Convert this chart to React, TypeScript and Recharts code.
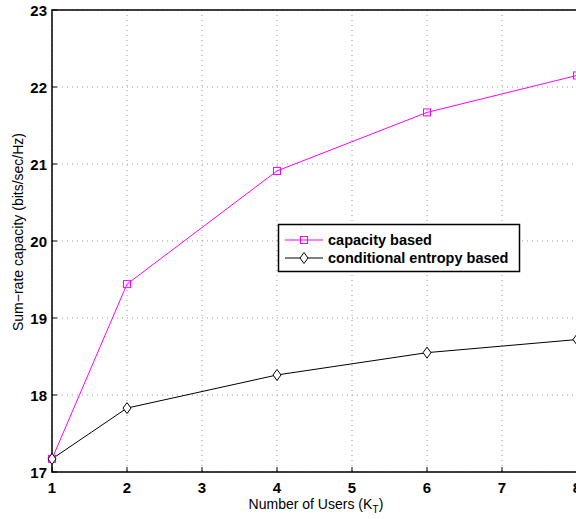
import React from "react";
import * as Recharts from "recharts";
import { ComposedChart, Line, XAxis, YAxis, CartesianGrid, Customized } from "recharts";

const users = [1, 2, 4, 6, 8];
const capacityBased = [17.17, 19.44, 20.91, 21.67, 22.15];
const conditionalEntropyBased = [17.17, 17.83, 18.26, 18.55, 18.72];
const xTicks = [1, 2, 3, 4, 5, 6, 7, 8];
const yTicks = [17, 18, 19, 20, 21, 22, 23];
const seriesNames = ["capacity based", "conditional entropy based"];

const data = users.map((u, i) => ({ x: u, cap: capacityBased[i], ce: conditionalEntropyBased[i] }));

const MAGENTA = "#ff00ff";
const FONT = "'Liberation Sans', Arial, Helvetica, sans-serif";

const SquareDot = (props: any) => {
  const { cx, cy } = props;
  if (cx == null || cy == null) return null;
  return <rect x={cx - 3.5} y={cy - 3.5} width={7} height={7} fill="none" stroke={MAGENTA} strokeWidth={1} />;
};
const DiamondDot = (props: any) => {
  const { cx, cy } = props;
  if (cx == null || cy == null) return null;
  return <path d={`M${cx},${cy - 5.5} L${cx + 4},${cy} L${cx},${cy + 5.5} L${cx - 4},${cy} Z`} fill="#fff" stroke="#000" strokeWidth={1} />;
};

const XTick = (props: any) => {
  const { x, payload } = props;
  return (
    <g>
      <line x1={x} x2={x} y1={472} y2={467} stroke="#000" strokeWidth={1} />
      <text x={x} y={493} textAnchor="middle" fontFamily={FONT} fontWeight="bold" fontSize={15} fill="#000">{payload.value}</text>
    </g>
  );
};
const XTopTick = (props: any) => {
  const { x } = props;
  return <line x1={x} x2={x} y1={10} y2={15} stroke="#000" strokeWidth={1} />;
};
const YTick = (props: any) => {
  const { y, payload } = props;
  return (
    <g>
      <line x1={52} x2={57} y1={y} y2={y} stroke="#000" strokeWidth={1} />
      <text x={47} y={y + 5.5} textAnchor="end" fontFamily={FONT} fontWeight="bold" fontSize={15} fill="#000">{payload.value}</text>
    </g>
  );
};

const Overlay = () => {
  const R: any = Recharts;
  let area: any = null;
  try {
    area = R.usePlotArea ? R.usePlotArea() : R.useOffset ? R.useOffset() : null;
  } catch (e) {
    area = null;
  }
  const left = area?.x ?? area?.left ?? 52;
  const top = area?.y ?? area?.top ?? 10;
  const width = area?.width ?? 525;
  const height = area?.height ?? 462;
  return (
    <g>
      <rect x={left} y={top} width={width} height={height} fill="none" stroke="#000" strokeWidth={1.5} />
      <g>
        <rect x={278.5} y={224.5} width={241} height={47} fill="#fff" stroke="#000" strokeWidth={1.5} />
        <line x1={285} x2={323} y1={240} y2={240} stroke={MAGENTA} strokeWidth={1} />
        <rect x={300.5} y={236.5} width={7} height={7} fill="none" stroke={MAGENTA} strokeWidth={1} />
        <text x={328} y={245} fontFamily={FONT} fontWeight="bold" fontSize={14.5} fill="#000">{seriesNames[0]}</text>
        <line x1={285} x2={323} y1={258} y2={258} stroke="#000" strokeWidth={1} />
        <path d="M304,252.5 L308,258 L304,263.5 L300,258 Z" fill="#fff" stroke="#000" strokeWidth={1} />
        <text x={328} y={263} fontFamily={FONT} fontWeight="bold" fontSize={14.5} fill="#000">{seriesNames[1]}</text>
      </g>
      <text x={316} y={509} textAnchor="middle" fontFamily={FONT} fontSize={14} fill="#000">
        Number of Users (K<tspan dy={4} fontSize={10.5}>T</tspan><tspan dy={-4}>)</tspan>
      </text>
      <text x={0} y={0} transform="translate(23,232) rotate(-90)" textAnchor="middle" fontFamily={FONT} fontSize={14} fill="#000">
        Sum−rate capacity (bits/sec/Hz)
      </text>
    </g>
  );
};

export default function App() {
  return (
    <div style={{ position: "absolute", left: 0, top: 0, width: 576, height: 519, overflow: "hidden", background: "#fff" }}>
      <ComposedChart width={590} height={519} data={data} margin={{ top: 10, right: 13, bottom: 0, left: 0 }}>
        <CartesianGrid stroke="#999" strokeDasharray="1 4" horizontalValues={yTicks} verticalValues={xTicks} />
        <XAxis dataKey="x" type="number" domain={[1, 8]} ticks={xTicks} height={47} axisLine={false} tickLine={false} tick={<XTick />} interval={0} />
        <XAxis xAxisId="top" orientation="top" dataKey="x" type="number" domain={[1, 8]} ticks={xTicks} height={0} axisLine={false} tickLine={false} tick={<XTopTick />} interval={0} />
        <YAxis type="number" domain={[17, 23]} ticks={yTicks} width={52} axisLine={false} tickLine={false} tick={<YTick />} interval={0} />
        <Line dataKey="cap" stroke={MAGENTA} strokeWidth={1} dot={<SquareDot />} activeDot={false} isAnimationActive={false} />
        <Line dataKey="ce" stroke="#000" strokeWidth={1} dot={<DiamondDot />} activeDot={false} isAnimationActive={false} />
        <Customized component={<Overlay />} />
      </ComposedChart>
    </div>
  );
}
